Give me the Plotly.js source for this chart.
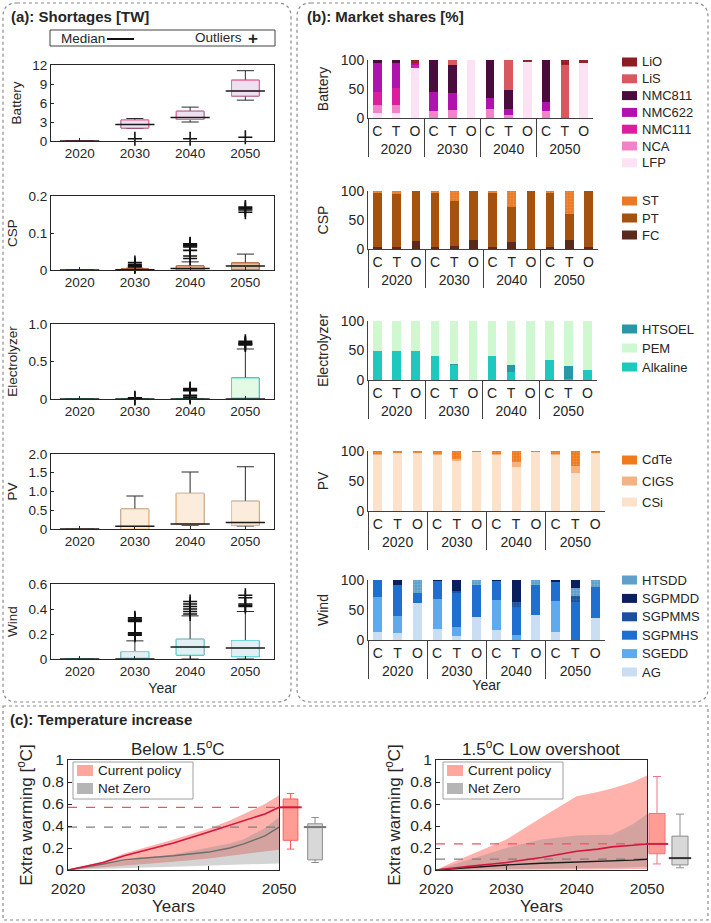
<!DOCTYPE html>
<html>
<head>
<meta charset="utf-8">
<script src="https://cdn.plot.ly/plotly-3.0.1.min.js"></script>
<style>
  html, body { margin: 0; padding: 0; background: #fff; }
  #chart { width: 711px; height: 923px; }
</style>
</head>
<body>
<div id="chart"></div>
<script>
// ---------------- data ----------------
var years = ['2020', '2030', '2040', '2050'];
var scen = ['C', 'T', 'O'];

// (a) shortages [TW], box statistics per year
var batQ1 = [0, 2.05, 3.4, 7.1];
var batMed = [0, 2.6, 3.7, 7.9];
var batQ3 = [0, 3.3, 4.7, 9.6];
var batLo = [0, 2.0, 3.0, 6.45];
var batHi = [0, 3.55, 5.35, 11.1];
var batOutYr = ['2030', '2040', '2050'];
var batOutVal = [0.35, 0.35, 0.6];

var cspQ1 = [0, 0, 0, 0.001];
var cspMed = [0, 0.001, 0.004, 0.011];
var cspQ3 = [0, 0.003, 0.011, 0.019];
var cspLo = [0, 0, 0, 0];
var cspHi = [0, 0.005, 0.022, 0.043];
var cspOutYr = ['2030', '2030', '2030', '2030', '2030',
  '2040', '2040', '2040', '2040', '2040', '2040', '2040', '2040',
  '2050', '2050', '2050', '2050'];
var cspOutVal = [0.008, 0.01, 0.012, 0.015, 0.02,
  0.031, 0.038, 0.053, 0.062, 0.065, 0.067, 0.069, 0.071,
  0.156, 0.162, 0.166, 0.17];

var eleQ1 = [0, 0, 0, 0];
var eleMed = [0, 0, 0, 0];
var eleQ3 = [0, 0, 0, 0.28];
var eleLo = [0, 0, 0, 0];
var eleHi = [0, 0, 0, 0.667];
var eleOutYr = ['2030', '2030', '2040', '2040', '2040', '2040', '2040', '2040', '2040',
  '2050', '2050', '2050', '2050', '2050'];
var eleOutVal = [0.005, 0.015, 0.02, 0.04, 0.05, 0.11, 0.12, 0.13, 0.14,
  0.72, 0.73, 0.74, 0.75, 0.77];

var pvQ1 = [0, 0, 0.12, 0.1];
var pvMed = [0, 0.07, 0.13, 0.17];
var pvQ3 = [0, 0.53, 0.95, 0.74];
var pvLo = [0, 0, 0.1, 0.08];
var pvHi = [0, 0.88, 1.52, 1.66];
var pvOutYr = [];
var pvOutVal = [];

var windQ1 = [0, 0, 0.032, 0.019];
var windMed = [0, 0, 0.096, 0.088];
var windQ3 = [0, 0.059, 0.158, 0.147];
var windLo = [0, 0, 0, 0];
var windHi = [0, 0.145, 0.345, 0.38];
var windOutYr = ['2030', '2030', '2030', '2030', '2030', '2030', '2030', '2030', '2030',
  '2040', '2040', '2040', '2040', '2040', '2040',
  '2050', '2050', '2050', '2050', '2050'];
var windOutVal = [0.19, 0.2, 0.2, 0.21, 0.3, 0.31, 0.31, 0.32, 0.33,
  0.36, 0.38, 0.4, 0.42, 0.44, 0.46,
  0.42, 0.43, 0.44, 0.49, 0.51];

// (b) market shares [%], order: 2020 C,T,O, 2030 C,T,O, ...
var batLFP = [9, 8, 87, 0, 0, 100, 0, 0, 97, 0, 0, 94];
var batNCA = [13, 14, 0, 12, 14, 0, 15, 5, 0, 12, 0, 0];
var batNMC111 = [22, 29, 4, 0, 0, 0, 0, 0, 0, 0, 0, 0];
var batNMC622 = [50, 43, 3, 33, 29, 0, 20, 10, 0, 15, 0, 0];
var batNMC811 = [6, 6, 0, 55, 48, 0, 65, 33, 0, 73, 0, 0];
var batLiS = [0, 0, 0, 0, 9, 0, 0, 52, 0, 0, 91, 0];
var batLiO = [0, 0, 6, 0, 0, 0, 0, 0, 3, 0, 9, 6];

var cspFC = [4, 4, 14, 4, 6, 16, 4, 12, 0, 4, 15, 4];
var cspPT = [92, 91, 86, 92, 76, 84, 92, 60, 100, 92, 45, 96];
var cspST = [4, 5, 0, 4, 18, 0, 4, 28, 0, 4, 40, 0];

var eleAlk = [50, 50, 50, 41, 25, 0, 40, 14, 0, 34, 2, 17];
var eleHTSOEL = [0, 0, 0, 0, 2, 0, 0, 12, 0, 0, 22, 0];
var elePEM = [50, 50, 50, 59, 73, 100, 60, 74, 100, 66, 76, 83];

var pvCSi = [94, 97, 96, 94, 83, 98, 94, 73, 98, 94, 63, 96];
var pvCIGS = [1, 0, 1, 1, 4, 0, 1, 8, 0, 1, 12, 1];
var pvCdTe = [5, 3, 3, 5, 13, 2, 5, 19, 2, 5, 25, 3];

var wAG = [14, 11, 62, 18, 7, 39, 16, 0, 41, 13, 0, 36];
var wSGEDD = [58, 29, 0, 50, 14, 0, 51, 9, 0, 52, 0, 0];
var wSGPMHS = [28, 51, 17, 31, 58, 53, 32, 46, 51, 32, 63, 53];
var wSGPMMS = [0, 0, 0, 0, 3, 0, 0, 8, 0, 0, 10, 0];
var wHTSDD = [0, 0, 21, 0, 0, 8, 0, 0, 8, 0, 13, 11];
var wSGPMDD = [0, 9, 0, 1, 18, 0, 1, 37, 0, 3, 14, 0];

// (c) temperature increase [°C]
var simYears = [2020, 2022, 2025, 2028, 2030, 2035, 2040, 2043, 2045, 2048, 2050];
var b15CpMed = [0, 0.025, 0.068, 0.13, 0.163, 0.246, 0.345, 0.405, 0.446, 0.51, 0.57];
var b15CpLow = [0, 0.01, 0.025, 0.04, 0.046, 0.075, 0.105, 0.13, 0.145, 0.17, 0.185];
var b15CpHigh = [0, 0.03, 0.077, 0.15, 0.185, 0.277, 0.375, 0.45, 0.51, 0.6, 0.68];
var b15NzMed = [0, 0.02, 0.055, 0.092, 0.105, 0.13, 0.163, 0.2, 0.237, 0.31, 0.39];
var b15NzLow = [0, 0.005, 0.01, 0.015, 0.02, 0.03, 0.04, 0.045, 0.05, 0.055, 0.06];
var b15NzHigh = [0, 0.02, 0.05, 0.085, 0.1, 0.14, 0.2, 0.24, 0.28, 0.38, 0.48];
var b15BoxQ1 = [0.27, 0.092];      // [current policy, net zero]
var b15BoxMed = [0.57, 0.39];
var b15BoxQ3 = [0.646, 0.42];
var b15BoxLo = [0.19, 0.068];
var b15BoxHi = [0.695, 0.477];

var looCpMed = [0, 0.012, 0.035, 0.055, 0.068, 0.114, 0.17, 0.19, 0.21, 0.225, 0.237];
var looCpLow = [0, 0, 0, 0, 0, 0.002, 0.004, 0.005, 0.006, 0.008, 0.01];
var looCpHigh = [0, 0.06, 0.14, 0.22, 0.277, 0.477, 0.67, 0.71, 0.74, 0.8, 0.86];
var looNzMed = [0, 0.01, 0.025, 0.038, 0.046, 0.062, 0.071, 0.078, 0.083, 0.09, 0.098];
var looNzLow = [0, 0, 0.003, 0.005, 0.007, 0.01, 0.015, 0.018, 0.02, 0.025, 0.03];
var looNzHigh = [0, 0.04, 0.1, 0.16, 0.2, 0.277, 0.314, 0.318, 0.32, 0.415, 0.51];
var looBoxQ1 = [0.148, 0.046];
var looBoxMed = [0.237, 0.108];
var looBoxQ3 = [0.514, 0.308];
var looBoxLo = [0.055, 0.02];
var looBoxHi = [0.85, 0.508];

// ---------------- helpers ----------------
var W = 711, H = 923;
var FONT = '"Liberation Sans", Arial, sans-serif';
var INK = '#262626';

function fx(p) { return p / W; }
function fy(p) { return 1 - p / H; }
function xdom(a, b) { return [fx(a), fx(b)]; }
function ydom(top, bottom) { return [fy(bottom), fy(top)]; }
function axId(n, l) { return l + (n === 1 ? '' : n); }
function axKey(n, l) { return l + 'axis' + (n === 1 ? '' : n); }

var traces = [];
var shapes = [];
var annotations = [];
var layout = {
  width: W, height: H,
  margin: {l: 0, r: 0, t: 0, b: 0},
  paper_bgcolor: '#ffffff',
  plot_bgcolor: 'rgba(0,0,0,0)',
  font: {family: FONT, color: INK, size: 13},
  showlegend: false,
  barmode: 'stack',
  bargap: 0.55,
  boxmode: 'overlay',
  shapes: shapes,
  annotations: annotations
};

function text(str, x, y, size, anchor, extra) {
  var a = {text: str, x: fx(x), y: fy(y), xref: 'paper', yref: 'paper', showarrow: false,
    xanchor: anchor || 'left', yanchor: 'middle', font: {size: size}};
  if (extra) Object.assign(a.font, extra);
  annotations.push(a);
}

function rect(x0, y0, x1, y1, fill, line) {
  shapes.push({type: 'rect', xref: 'paper', yref: 'paper', x0: fx(x0), x1: fx(x1), y0: fy(y0), y1: fy(y1),
    fillcolor: fill, line: line || {width: 0}});
}

function roundRect(x0, y0, x1, y1, r) {
  var p = function (x, y) { return fx(x) + ',' + fy(y); };
  return 'M' + p(x0 + r, y0) + ' L' + p(x1 - r, y0) + ' Q' + p(x1, y0) + ' ' + p(x1, y0 + r) +
    ' L' + p(x1, y1 - r) + ' Q' + p(x1, y1) + ' ' + p(x1 - r, y1) +
    ' L' + p(x0 + r, y1) + ' Q' + p(x0, y1) + ' ' + p(x0, y1 - r) +
    ' L' + p(x0, y0 + r) + ' Q' + p(x0, y0) + ' ' + p(x0 + r, y0) + ' Z';
}

// panel frames
var frameLine = {color: '#8a8a8a', width: 1.2, dash: 'dot'};
shapes.push({type: 'path', xref: 'paper', yref: 'paper', path: roundRect(3, 3, 291, 702, 14), line: frameLine});
shapes.push({type: 'path', xref: 'paper', yref: 'paper', path: roundRect(297, 3, 708, 702, 14), line: frameLine});
rect(3, 706, 708, 920, 'rgba(0,0,0,0)', frameLine);

text('<b>(a): Shortages [TW]</b>', 9, 16, 15);
text('<b>(b): Market shares [%]</b>', 305, 16, 15);
text('<b>(c): Temperature increase</b>', 8, 719, 15);

// ---------------- (a) box plots ----------------
var boxPanels = [
  {label: 'Battery', q1: batQ1, med: batMed, q3: batQ3, lo: batLo, hi: batHi, outYr: batOutYr, outVal: batOutVal,
    edge: '#f2699d', fill: '#ece1f1', range: [0, 12], tv: [0, 3, 6, 9, 12], tt: ['0', '3', '6', '9', '12'], top: 65, bottom: 141},
  {label: 'CSP', q1: cspQ1, med: cspMed, q3: cspQ3, lo: cspLo, hi: cspHi, outYr: cspOutYr, outVal: cspOutVal,
    edge: '#e0672a', fill: '#dcc0a6', range: [0, 0.2], tv: [0, 0.1, 0.2], tt: ['0', '0.1', '0.2'], top: 196, bottom: 270},
  {label: 'Electrolyzer', q1: eleQ1, med: eleMed, q3: eleQ3, lo: eleLo, hi: eleHi, outYr: eleOutYr, outVal: eleOutVal,
    edge: '#4ddcc9', fill: '#e3fae5', range: [0, 1], tv: [0, 0.5, 1], tt: ['0', '0.5', '1.0'], top: 324, bottom: 399},
  {label: 'PV', q1: pvQ1, med: pvMed, q3: pvQ3, lo: pvLo, hi: pvHi, outYr: pvOutYr, outVal: pvOutVal,
    edge: '#f6c48e', fill: '#fcecdb', range: [0, 2], tv: [0, 0.5, 1, 1.5, 2], tt: ['0', '0.5', '1.0', '1.5', '2.0'], top: 454, bottom: 529},
  {label: 'Wind', q1: windQ1, med: windMed, q3: windQ3, lo: windLo, hi: windHi, outYr: windOutYr, outVal: windOutVal,
    edge: '#72e0e2', fill: '#e2eff3', range: [0, 0.6], tv: [0, 0.2, 0.4, 0.6], tt: ['0', '0.2', '0.4', '0.6'], top: 584, bottom: 659}
];

boxPanels.forEach(function (p, i) {
  var n = i + 1, xa = axId(n, 'x'), ya = axId(n, 'y');
  // black whiskers
  traces.push({type: 'box', x: years, q1: p.q1, median: p.med, q3: p.q3, lowerfence: p.lo, upperfence: p.hi,
    width: 0.5, whiskerwidth: 0.62, line: {color: '#2b2b2b', width: 1}, fillcolor: p.fill,
    xaxis: xa, yaxis: ya, hoverinfo: 'skip'});
  // coloured box on top
  traces.push({type: 'box', x: years, q1: p.q1, median: p.med, q3: p.q3, lowerfence: p.q1, upperfence: p.q3,
    width: 0.5, whiskerwidth: 0, line: {color: p.edge, width: 1}, fillcolor: p.fill,
    xaxis: xa, yaxis: ya, hoverinfo: 'skip'});
  // black median
  traces.push({type: 'scatter', mode: 'markers', x: years, y: p.med, cliponaxis: false,
    marker: {symbol: 'line-ew', size: 28, line: {color: '#1a1a1a', width: 1.5}},
    xaxis: xa, yaxis: ya, hoverinfo: 'skip'});
  if (p.outVal.length) {
    traces.push({type: 'scatter', mode: 'markers', x: p.outYr, y: p.outVal, cliponaxis: false,
      marker: {symbol: 'cross-thin', size: 10, line: {color: '#111', width: 1.6}},
      xaxis: xa, yaxis: ya, hoverinfo: 'skip'});
  }
  var xaxis = {domain: xdom(51, 274), anchor: ya, type: 'category', categoryorder: 'array', categoryarray: years,
    showline: true, mirror: true, linecolor: INK, linewidth: 1, ticks: 'inside', ticklen: 3, tickcolor: INK,
    showgrid: false, zeroline: false, tickfont: {size: 13.5}};
  if (n === 5) xaxis.title = {text: 'Year', font: {size: 14}, standoff: 4};
  layout[axKey(n, 'x')] = xaxis;
  layout[axKey(n, 'y')] = {domain: ydom(p.top, p.bottom), anchor: xa, range: p.range,
    tickvals: p.tv, ticktext: p.tt, showline: true, mirror: true, linecolor: INK, linewidth: 1,
    ticks: 'inside', ticklen: 3, tickcolor: INK, showgrid: false, zeroline: false, tickfont: {size: 13.5},
    title: {text: p.label, font: {size: 13.5}, standoff: 7}};
});

// legend strip above the box plots
rect(50, 30, 275, 46, '#ffffff', {color: '#404040', width: 1});
text('Median', 59, 38, 13.5);
shapes.push({type: 'line', xref: 'paper', yref: 'paper', x0: fx(107), x1: fx(134), y0: fy(39), y1: fy(39),
  line: {color: '#111', width: 2}});
text('Outliers', 244, 37, 13.5, 'right');
text('<b>+</b>', 253, 39, 17, 'center');

// ---------------- (b) stacked market shares ----------------
var xOuter = [], xInner = [];
years.forEach(function (y) { scen.forEach(function (s) { xOuter.push(y); xInner.push(s); }); });

var techColor = {
  LiO: '#8c1d22', LiS: '#d9575e', NMC811: '#4a0b3d', NMC622: '#b012ad', NMC111: '#dd1d9f', NCA: '#f283c8', LFP: '#fde1f4',
  ST: '#ea7a26', PT: '#a5520f', FC: '#5b2a1c',
  HTSOEL: '#2a97a6', PEM: '#cff7d0', Alkaline: '#1ec8bf',
  CdTe: '#f07a1c', CIGS: '#f3b283', CSi: '#fde2cb',
  HTSDD: '#5f9fc9', SGPMDD: '#0b1f5e', SGPMMS: '#1a4f9c', SGPMHS: '#1f6fd0', SGEDD: '#5eaaef', AG: '#c9def2'
};
var dotted = {LiO: '#c04040', ST: '#f5a25a', CdTe: '#f8a860', HTSDD: '#9cc8e4', SGPMMS: '#4a7cc0'};

var barPanels = [
  {label: 'Battery', series: [batLFP, batNCA, batNMC111, batNMC622, batNMC811, batLiS, batLiO],
    names: ['LFP', 'NCA', 'NMC111', 'NMC622', 'NMC811', 'LiS', 'LiO'],
    legend: ['LiO', 'LiS', 'NMC811', 'NMC622', 'NMC111', 'NCA', 'LFP'],
    top: 60, bottom: 118, left: 368, right: 593, legTop: 62, legStep: 16.8},
  {label: 'CSP', series: [cspFC, cspPT, cspST], names: ['FC', 'PT', 'ST'], legend: ['ST', 'PT', 'FC'],
    top: 191, bottom: 249, left: 368, right: 598, legTop: 201, legStep: 17},
  {label: 'Electrolyzer', series: [eleAlk, eleHTSOEL, elePEM], names: ['Alkaline', 'HTSOEL', 'PEM'],
    legend: ['HTSOEL', 'PEM', 'Alkaline'], top: 321, bottom: 380, left: 368, right: 597, legTop: 329, legStep: 19},
  {label: 'PV', series: [pvCSi, pvCIGS, pvCdTe], names: ['CSi', 'CIGS', 'CdTe'], legend: ['CdTe', 'CIGS', 'CSi'],
    top: 451, bottom: 511, left: 368, right: 605, legTop: 460, legStep: 21},
  {label: 'Wind', series: [wAG, wSGEDD, wSGPMHS, wSGPMMS, wHTSDD, wSGPMDD],
    names: ['AG', 'SGEDD', 'SGPMHS', 'SGPMMS', 'HTSDD', 'SGPMDD'],
    legend: ['HTSDD', 'SGPMDD', 'SGPMMS', 'SGPMHS', 'SGEDD', 'AG'],
    top: 580, bottom: 640, left: 368, right: 605, legTop: 580, legStep: 18.4}
];

barPanels.forEach(function (p, i) {
  var n = i + 6, xa = axId(n, 'x'), ya = axId(n, 'y');
  p.series.forEach(function (vals, k) {
    var name = p.names[k];
    var marker = {color: techColor[name], line: {width: 0}};
    if (dotted[name]) marker.pattern = {shape: '.', size: 3, solidity: 0.3, fgcolor: dotted[name], fillmode: 'overlay'};
    traces.push({type: 'bar', name: name, x: [xOuter, xInner], y: vals, marker: marker,
      xaxis: xa, yaxis: ya, hoverinfo: 'skip'});
  });
  var xaxis = {domain: xdom(p.left, p.right), anchor: ya, type: 'multicategory', tickangle: 0,
    showline: true, linecolor: '#404040', linewidth: 1, ticks: '', showgrid: false, zeroline: false,
    showdividers: true, dividercolor: '#404040', dividerwidth: 1, tickfont: {size: 14}};
  if (n === 10) xaxis.title = {text: 'Year', font: {size: 14}, standoff: 2};
  layout[axKey(n, 'x')] = xaxis;
  layout[axKey(n, 'y')] = {domain: ydom(p.top, p.bottom), anchor: xa, range: [0, 100], tickvals: [0, 50, 100],
    showline: true, linecolor: '#404040', linewidth: 1, ticks: '', showgrid: false, zeroline: false,
    tickfont: {size: 14}, title: {text: p.label, font: {size: 14}, standoff: 8}};
  p.legend.forEach(function (name, k) {
    var cy = p.legTop + k * p.legStep;
    rect(622, cy - 4.5, 637, cy + 4.5, techColor[name]);
    text(name, 640, cy, 13);
  });
});

// ---------------- (c) temperature increase ----------------
var tempPanels = [
  {title: 'Below 1.5<sup>o</sup>C', titleX: 178, left: 68, right: 279, boxLeft: 279, boxRight: 330, boxRange: [-0.47, 1.61], boxWidth: 0.6,
    cpLow: b15CpLow, cpHigh: b15CpHigh, cpMed: b15CpMed, nzLow: b15NzLow, nzHigh: b15NzHigh, nzMed: b15NzMed,
    q1: b15BoxQ1, med: b15BoxMed, q3: b15BoxQ3, lo: b15BoxLo, hi: b15BoxHi,
    nzColor: '#6e6e6e', cpBoxEdge: '#ff5a5a', cpMedColor: '#d41a3a', nzMedColor: '#777777', legLeft: 73},
  {title: '1.5<sup>o</sup>C Low overshoot', titleX: 541, left: 436, right: 647, boxLeft: 647, boxRight: 700, boxRange: [-0.435, 1.87], boxWidth: 0.7,
    cpLow: looCpLow, cpHigh: looCpHigh, cpMed: looCpMed, nzLow: looNzLow, nzHigh: looNzHigh, nzMed: looNzMed,
    q1: looBoxQ1, med: looBoxMed, q3: looBoxQ3, lo: looBoxLo, hi: looBoxHi,
    nzColor: '#1a1a1a', cpBoxEdge: '#f27088', cpMedColor: '#d0204a', nzMedColor: '#333333', legLeft: 443}
];

var cpFill = 'rgba(255,105,95,0.52)';
var nzFill = 'rgba(135,135,135,0.36)';

tempPanels.forEach(function (p, i) {
  var n = 11 + 2 * i, xa = axId(n, 'x'), ya = axId(n, 'y');
  var nb = n + 1, xb = axId(nb, 'x'), yb = axId(nb, 'y');
  var common = {xaxis: xa, yaxis: ya, hoverinfo: 'skip', type: 'scatter', mode: 'lines'};
  traces.push(Object.assign({x: simYears, y: p.cpLow, line: {width: 0}}, common));
  traces.push(Object.assign({x: simYears, y: p.cpHigh, line: {width: 0}, fill: 'tonexty', fillcolor: cpFill}, common));
  traces.push(Object.assign({x: simYears, y: p.nzLow, line: {width: 0}}, common));
  traces.push(Object.assign({x: simYears, y: p.nzHigh, line: {width: 0}, fill: 'tonexty', fillcolor: nzFill}, common));
  var cpEnd = p.cpMed[p.cpMed.length - 1], nzEnd = p.nzMed[p.nzMed.length - 1];
  var span = [simYears[0], simYears[simYears.length - 1]];
  traces.push(Object.assign({x: span, y: [cpEnd, cpEnd], line: {color: '#f0506a', width: 1.3, dash: 'dash'}}, common));
  traces.push(Object.assign({x: span, y: [nzEnd, nzEnd], line: {color: '#808080', width: 1.3, dash: 'dash'}}, common));
  traces.push(Object.assign({x: simYears, y: p.nzMed, line: {color: p.nzColor, width: 1.4}}, common));
  traces.push(Object.assign({x: simYears, y: p.cpMed, line: {color: '#d4163c', width: 1.6}}, common));

  // end-of-period distribution boxes
  var boxFill = ['#ff9d95', '#d8d8d8'];
  var boxEdge = [p.cpBoxEdge, '#8c8c8c'];
  var medColor = [p.cpMedColor, p.nzMedColor];
  for (var k = 0; k < 2; k++) {
    traces.push({type: 'box', x: [k], q1: [p.q1[k]], median: [p.med[k]], q3: [p.q3[k]],
      lowerfence: [p.lo[k]], upperfence: [p.hi[k]], width: p.boxWidth, whiskerwidth: 0.5,
      line: {color: boxEdge[k], width: 1}, fillcolor: boxFill[k], xaxis: xb, yaxis: yb, hoverinfo: 'skip'});
    traces.push({type: 'scatter', mode: 'markers', x: [k], y: [p.med[k]], cliponaxis: false,
      marker: {symbol: 'line-ew', size: 16, line: {color: medColor[k], width: 2}}, xaxis: xb, yaxis: yb, hoverinfo: 'skip'});
  }

  layout[axKey(n, 'x')] = {domain: xdom(p.left, p.right), anchor: ya, range: [2020, 2050], tickvals: [2020, 2030, 2040, 2050],
    showline: true, mirror: true, linecolor: INK, linewidth: 1, ticks: 'inside', ticklen: 4, tickcolor: INK,
    ticklabelstandoff: 4, showgrid: false, zeroline: false, tickfont: {size: 15.5},
    title: {text: 'Years', font: {size: 17}, standoff: 2}};
  layout[axKey(n, 'y')] = {domain: ydom(760, 870), anchor: xa, range: [0, 1], tickvals: [0, 0.2, 0.4, 0.6, 0.8, 1],
    ticktext: ['0', '0.2', '0.4', '0.6', '0.8', '1'], showline: true, mirror: true, linecolor: INK, linewidth: 1,
    ticks: 'inside', ticklen: 4, tickcolor: INK, showgrid: false, zeroline: false, tickfont: {size: 15.5},
    title: {text: 'Extra warming [<sup>o</sup>C]', font: {size: 17}, standoff: 5}};
  layout[axKey(nb, 'x')] = {domain: xdom(p.boxLeft, p.boxRight), anchor: yb, range: p.boxRange, visible: false};
  layout[axKey(nb, 'y')] = {domain: ydom(760, 870), anchor: xb, range: [0, 1], visible: false};

  text(p.title, p.titleX, 748, 17, 'center');

  // in-plot legend
  var lx = p.legLeft;
  rect(lx, 762, lx + 120, 799, '#ffffff', {color: '#a0a0a0', width: 1});
  rect(lx + 4, 765, lx + 20, 776, '#ffa79f');
  rect(lx + 4, 783, lx + 20, 794, '#b5b5b5');
  text('Current policy', lx + 23, 770.5, 13.5);
  text('Net Zero', lx + 23, 788.5, 13.5);
});

Plotly.newPlot('chart', traces, layout, {staticPlot: true});
</script>
</body>
</html>
